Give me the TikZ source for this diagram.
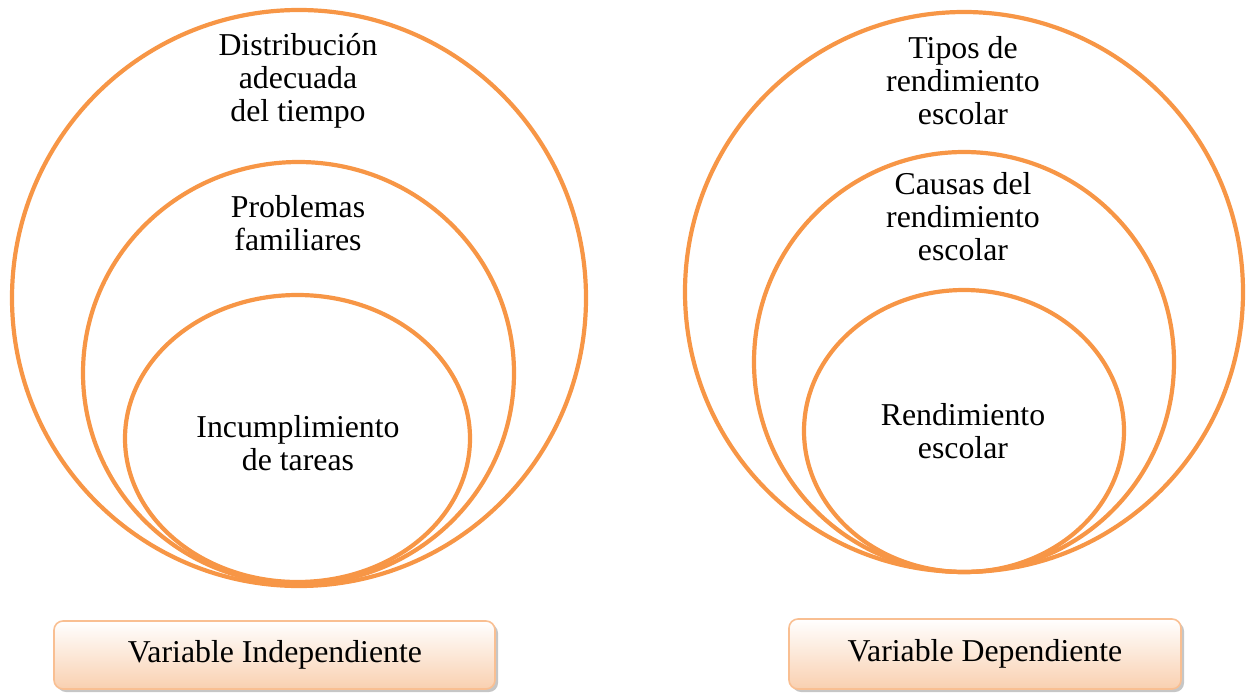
\documentclass[tikz,border=0pt]{standalone}
\usepackage{fontspec}
\setmainfont{Liberation Serif}
\usetikzlibrary{shadows}
\definecolor{acc}{HTML}{F79646}
\definecolor{boxline}{HTML}{F9BF92}
\definecolor{boxbot}{HTML}{F9D0B0}
\definecolor{shad}{HTML}{B8B8B8}
\tikzset{
  ring/.style={draw=acc, line width=4.2pt},
  lbl/.style={align=center, font=\fontsize{31.8}{33}\selectfont, inner sep=0pt},
  varbox/.style={draw=boxline, line width=1.6pt, rounded corners=9pt, top color=white, bottom color=boxbot,
     drop shadow={shadow xshift=3pt, shadow yshift=-3pt, fill=shad, opacity=0.8}},
}
\begin{document}
\begin{tikzpicture}[x=1pt,y=-1pt]
\useasboundingbox (0,0) rectangle (1248,696);
% left set
\draw[ring] (299,298) ellipse [x radius=287, y radius=288];
\draw[ring] (298.5,373) ellipse [x radius=215.5, y radius=211];
\draw[ring] (297.5,438.5) ellipse [x radius=172.5, y radius=143.5];
\node[lbl] (l1) at (298,81) {Distribución\\adecuada\\del tiempo};
\node[lbl] (l2) at (298,223) {Problemas\\familiares};
\node[lbl] (l3) at (298,443.5) {Incumplimiento\\de tareas};
% right set
\draw[ring] (964,292) ellipse [x radius=279, y radius=280];
\draw[ring] (964,362) ellipse [x radius=210, y radius=210];
\draw[ring] (964,431) ellipse [x radius=160, y radius=141];
\node[lbl] (r1) at (963,81) {Tipos de\\rendimiento\\escolar};
\node[lbl] (r2) at (963,217) {Causas del\\rendimiento\\escolar};
\node[lbl] (r3) at (963,431.5) {Rendimiento\\escolar};
% boxes
\path[varbox] (54,621) rectangle (495,689);
\node[lbl] (vi) at (275,655) {Variable Independiente};
\path[varbox] (789,619) rectangle (1181,689);
\node[lbl] (vd) at (985,654) {Variable Dependiente};
\end{tikzpicture}
\end{document}
